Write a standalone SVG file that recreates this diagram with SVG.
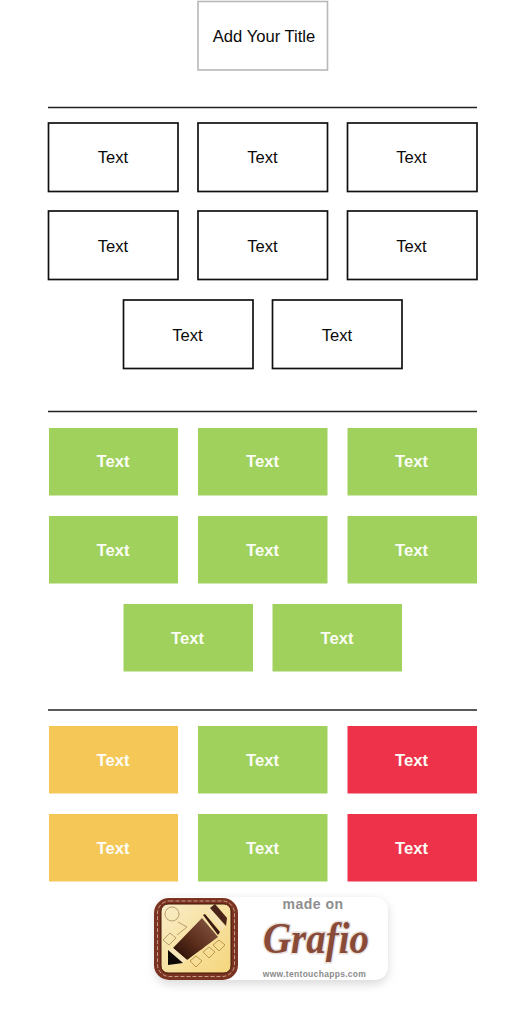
<svg xmlns="http://www.w3.org/2000/svg" width="531" height="1024" viewBox="0 0 531 1024">
<style>
.t{font-family:"Liberation Sans",Arial,sans-serif;font-size:16.6px;text-anchor:middle;fill:#0a0a0a}
.w{font-weight:700;fill:#fbfdf6}
.o{fill:#fff;stroke:#111;stroke-width:1.7}
.g{fill:#9fd15c}.y{fill:#f4c757}.r{fill:#ee3249}
.l{stroke:#222;stroke-width:1.7;fill:none}
.b{font-family:"Liberation Sans",Arial,sans-serif;text-anchor:middle}
</style>
<defs>
<filter id="s" x="-20%" y="-30%" width="140%" height="160%"><feGaussianBlur stdDeviation="5"/></filter>
<linearGradient id="pen" x1="0" y1="1" x2="1" y2="0"><stop offset="0" stop-color="#200b05"/><stop offset=".45" stop-color="#5b2d1b"/><stop offset="1" stop-color="#8a5d48"/></linearGradient>
<linearGradient id="bg" x1="0" y1="0" x2="1" y2="1"><stop offset="0" stop-color="#f9edc8"/><stop offset="1" stop-color="#f6d67c"/></linearGradient>
</defs>
<rect width="531" height="1024" fill="#fff"/>
<g id="connectors">
<line class="l" x1="48" y1="107.500" x2="477" y2="107.500"/>
<line class="l" x1="48" y1="411.500" x2="477" y2="411.500"/>
<line class="l" x1="48" y1="710" x2="477" y2="710"/>
</g>
<g id="title"><rect x="198" y="1.500" width="129.500" height="68.500" fill="#fff" stroke="#b8b8b8" stroke-width="1.600"/><text class="t" x="264" y="42">Add Your Title</text></g>
<g id="o1"><rect class="o" x="48.500" y="123" width="129.500" height="68.500"/><text class="t" x="113" y="163">Text</text></g>
<g id="o2"><rect class="o" x="198" y="123" width="129.500" height="68.500"/><text class="t" x="262.500" y="163">Text</text></g>
<g id="o3"><rect class="o" x="347.500" y="123" width="129.500" height="68.500"/><text class="t" x="411.500" y="163">Text</text></g>
<g id="o4"><rect class="o" x="48.500" y="211" width="129.500" height="68.500"/><text class="t" x="113" y="251.500">Text</text></g>
<g id="o5"><rect class="o" x="198" y="211" width="129.500" height="68.500"/><text class="t" x="262.500" y="251.500">Text</text></g>
<g id="o6"><rect class="o" x="347.500" y="211" width="129.500" height="68.500"/><text class="t" x="411.500" y="251.500">Text</text></g>
<g id="o7"><rect class="o" x="123.500" y="300" width="129.500" height="68.500"/><text class="t" x="187.500" y="340.500">Text</text></g>
<g id="o8"><rect class="o" x="272.500" y="300" width="129.500" height="68.500"/><text class="t" x="337" y="340.500">Text</text></g>
<g id="g1"><rect class="g" x="49" y="428" width="129" height="67.500"/><text class="t w" x="113" y="467">Text</text></g>
<g id="g2"><rect class="g" x="198" y="428" width="129.500" height="67.500"/><text class="t w" x="262.500" y="467">Text</text></g>
<g id="g3"><rect class="g" x="347.500" y="428" width="129.500" height="67.500"/><text class="t w" x="411.500" y="467">Text</text></g>
<g id="g4"><rect class="g" x="49" y="516" width="129" height="67.500"/><text class="t w" x="113" y="555.500">Text</text></g>
<g id="g5"><rect class="g" x="198" y="516" width="129.500" height="67.500"/><text class="t w" x="262.500" y="555.500">Text</text></g>
<g id="g6"><rect class="g" x="347.500" y="516" width="129.500" height="67.500"/><text class="t w" x="411.500" y="555.500">Text</text></g>
<g id="g7"><rect class="g" x="123.500" y="604" width="129.500" height="67.500"/><text class="t w" x="187.500" y="644">Text</text></g>
<g id="g8"><rect class="g" x="272.500" y="604" width="129.500" height="67.500"/><text class="t w" x="337" y="644">Text</text></g>
<g id="y1"><rect class="y" x="49" y="726" width="129" height="67.500"/><text class="t w" x="113" y="766">Text</text></g>
<g id="g9"><rect class="g" x="198" y="726" width="129.500" height="67.500"/><text class="t w" x="262.500" y="766">Text</text></g>
<g id="r1"><rect class="r" x="347.500" y="726" width="129.500" height="67.500"/><text class="t w" x="411.500" y="766">Text</text></g>
<g id="y2"><rect class="y" x="49" y="814" width="129" height="67.500"/><text class="t w" x="113" y="854">Text</text></g>
<g id="g10"><rect class="g" x="198" y="814" width="129.500" height="67.500"/><text class="t w" x="262.500" y="854">Text</text></g>
<g id="r2"><rect class="r" x="347.500" y="814" width="129.500" height="67.500"/><text class="t w" x="411.500" y="854">Text</text></g>
<g id="badge">
<rect x="156" y="900" width="232" height="84" rx="14" fill="#aaa" opacity=".45" filter="url(#s)"/>
<rect x="156" y="897" width="232" height="83" rx="13" fill="#fff"/>
<rect x="154" y="898" width="84" height="82" rx="15" fill="#7b3321"/>
<rect x="157.500" y="901" width="77" height="75.500" rx="12" fill="none" stroke="#d9b9a4" stroke-width=".8" stroke-dasharray="4 2"/>
<rect x="161" y="904" width="70" height="69" rx="7" fill="url(#bg)" stroke="#3e1509" stroke-width="1"/>
<g fill="none" stroke="#a8895a" stroke-width=".8">
<circle cx="172" cy="914" r="7"/><path d="M178 922L187 927L177 935"/><path d="M170 933l6 5-7 7-6-5z"/>
</g>
<g fill="none" stroke="#b78f45" stroke-width=".9">
<path d="M219 940l6 5-6 6-6-6zM209 947l6 5-6 6-6-6zM201 939l6 5-6 6-6-6zM196 956l6 5-6 6-6-6z"/>
</g>
<path d="M173 948L202 918L218 937L187 960Z" fill="url(#pen)"/>
<path d="M168 950L173 948L187 960L183 963Z" fill="#f5e5b8"/>
<path d="M168 950L183 963L168 965Z" fill="#0d0705"/>
<path d="M203 915L205 914L220 932L218 935Z" fill="#3a1a10"/>
<path d="M206 911L210 908L225 926L222 930Z" fill="#f6e4b6"/>
<path d="M210 908L215 904L227 918L226 926Z" fill="#4a2418"/>
<text class="b" x="313" y="909" font-size="14" font-weight="700" fill="#8e8e8e" letter-spacing=".5">made on</text>
<text x="316" y="953" font-family="'Liberation Serif',serif" font-style="italic" font-weight="700" font-size="44" text-anchor="middle" textLength="106" lengthAdjust="spacingAndGlyphs" fill="#8a4a38" stroke="#e6e1dd" stroke-width="3" paint-order="stroke">Grafio</text>
<text class="b" x="314.500" y="977" font-size="8.500" font-weight="700" fill="#8c8c8c" letter-spacing=".3">www.tentouchapps.com</text>
</g>
</svg>
